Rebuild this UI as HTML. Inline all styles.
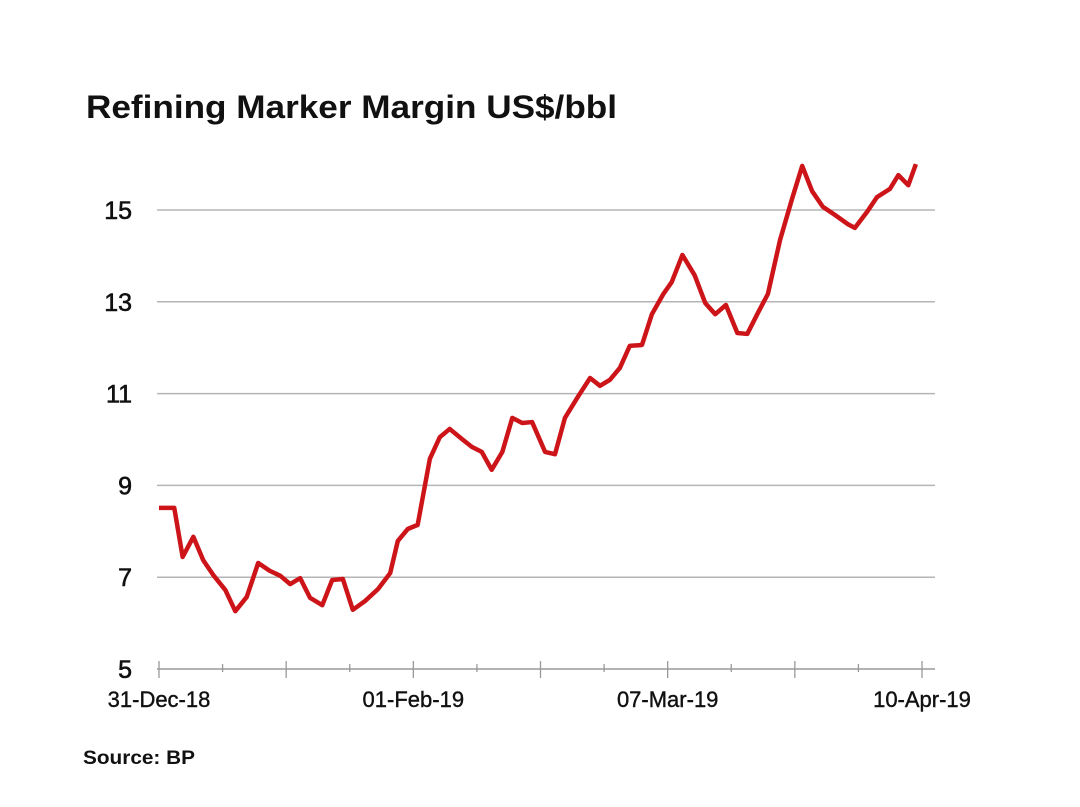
<!DOCTYPE html>
<html><head><meta charset="utf-8"><style>
html,body{margin:0;padding:0;background:#fff;}
svg{display:block;font-family:"Liberation Sans",Arial,sans-serif;}
</style></head><body>
<svg id="chart" width="1080" height="807">
<text x="86" y="118" font-size="32" font-weight="bold" fill="#111" textLength="531" lengthAdjust="spacingAndGlyphs">Refining Marker Margin US$/bbl</text>
<g id="grid"></g><g id="yticks"></g><g id="xaxis"></g><g id="series"></g>
<text x="83" y="764" font-size="19" font-weight="bold" fill="#111" textLength="112" lengthAdjust="spacingAndGlyphs">Source: BP</text>
</svg>
<script>
const days=[0,2,3.1,4.5,5.8,7.1,8.7,10,11.5,13,14.5,15.9,17.2,18.5,19.8,21.4,22.7,24.1,25.4,27,28.7,30.3,31.3,32.6,33.9,35.5,36.8,38.1,39.7,41,42.3,43.6,45,46.3,47.6,48.9,50.6,51.9,53.2,54.9,56.5,57.8,59.1,60.4,61.7,63.3,64.6,66.1,67.2,68.6,70.2,71.6,72.9,74.3,75.8,77.1,78.5,79.8,81.4,83,84.3,85.6,87,88.6,90.3,91.2,92.8,94.1,95.8,96.9,98.2,99.2];
const margins=[8.51,8.51,7.44,7.88,7.37,7.05,6.72,6.26,6.57,7.31,7.14,7.03,6.85,6.98,6.55,6.39,6.94,6.96,6.29,6.48,6.74,7.09,7.79,8.05,8.14,9.58,10.05,10.23,10.01,9.84,9.73,9.34,9.73,10.47,10.36,10.38,9.73,9.68,10.47,10.93,11.34,11.17,11.30,11.56,12.04,12.06,12.73,13.17,13.43,14.02,13.58,12.97,12.73,12.93,12.32,12.30,12.76,13.17,14.35,15.26,15.96,15.41,15.07,14.89,14.69,14.61,14.96,15.28,15.46,15.76,15.54,16.00];
const yTicks=[5,7,9,11,13,15];
const xLabels=["31-Dec-18","01-Feb-19","07-Mar-19","10-Apr-19"];
const xLabelDays=[0,33.33,66.67,100];

const NS="http://www.w3.org/2000/svg";
const X=d=>159+d*(922-159)/100;
const Y=v=>669-(v-5)*(669-210)/10;
function mk(tag,attrs,parent){const e=document.createElementNS(NS,tag);for(const k in attrs)e.setAttribute(k,attrs[k]);parent.appendChild(e);return e;}
const grid=document.getElementById('grid'),yt=document.getElementById('yticks'),xa=document.getElementById('xaxis'),se=document.getElementById('series');
yTicks.forEach(v=>{
  if(v>5){const l=mk('line',{x1:157,x2:935,y1:Y(v),y2:Y(v),stroke:'#b5b5b5','stroke-width':1.5},grid);
  
  }
  const t=mk('text',{x:132,y:Y(v)+9,'text-anchor':'end','font-size':25,fill:'#111',stroke:'#111','stroke-width':0.6},yt);t.textContent=v;
  
  
});
const ax=mk('line',{x1:157,x2:935,y1:669,y2:669,stroke:'#999','stroke-width':1.5},xa);


for(let i=0;i<=12;i++){const d=i*100/12;const major=i%2===0;
  const tk=mk('line',{x1:X(d),x2:X(d),y1:major?661:664,y2:major?678:672,stroke:'#999','stroke-width':1.3},xa);
  
  }
xLabels.forEach((s,i)=>{const t=mk('text',{x:X(xLabelDays[i]),y:707,'text-anchor':'middle','font-size':22,fill:'#111',stroke:'#111','stroke-width':0.4},xa);t.textContent=s;
  
  });
const p=mk('polyline',{points:days.map((d,i)=>X(d)+','+Y(margins[i])).join(' '),fill:'none',stroke:'#cc1419','stroke-width':4.5,'stroke-linejoin':'round'},se);


</script>
</body></html>
